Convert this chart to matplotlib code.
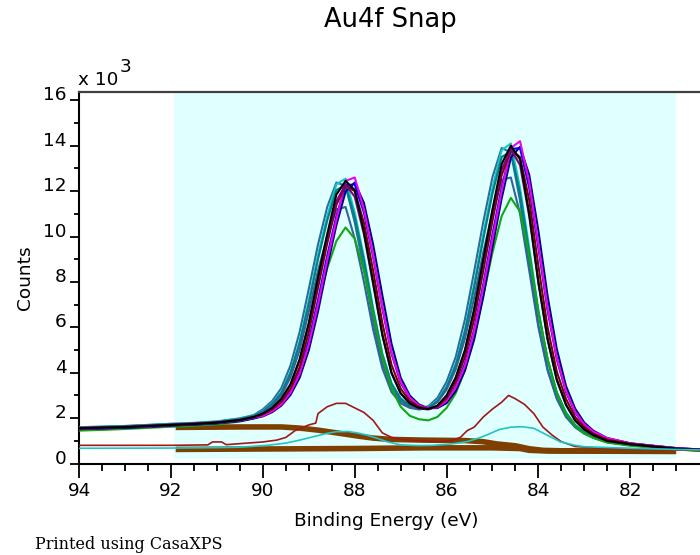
import matplotlib
matplotlib.use("Agg")
import matplotlib.pyplot as plt
from matplotlib.ticker import FixedLocator, FuncFormatter

# Binding-energy grid shared by the Au4f snapshot spectra (eV)
energy = [94.0, 93.5, 93.0, 92.5, 92.0, 91.5, 91.0, 90.5, 90.2,
          90.0, 89.8, 89.6, 89.4, 89.2, 89.0, 88.8, 88.6, 88.4, 88.2,
          88.0, 87.8, 87.6, 87.4, 87.2, 87.0, 86.8, 86.6, 86.4, 86.2,
          86.0, 85.8, 85.6, 85.4, 85.2, 85.0, 84.8, 84.6, 84.4, 84.2,
          84.0, 83.8, 83.6, 83.4, 83.2, 83.0, 82.8,
          82.5, 82.0, 81.5, 81.0, 80.5]

# Snapshot spectra (counts)
snap_steel_a = [1600, 1625, 1655, 1700, 1750, 1790, 1855, 1990, 2135,
                2390, 2750, 3320, 4320, 5800, 7700, 9650, 11300, 12380, 12230,
                10620, 8550, 6280, 4420, 3320, 2760, 2500, 2410, 2520, 2890,
                3600, 4700, 6350, 8450, 10650, 12620, 13900, 13700, 11580, 8750,
                6120, 4150, 2880, 2080, 1600, 1320, 1140,
                935, 810, 720, 630, 580]
snap_cyan = [1600, 1620, 1650, 1700, 1750, 1780, 1850, 1980, 2120,
             2330, 2650, 3150, 4050, 5400, 7200, 9200, 10900, 12300, 12550,
             11050, 9100, 6850, 4850, 3550, 2880, 2550, 2420, 2480, 2780,
             3400, 4400, 5900, 7900, 10100, 12150, 13800, 14100, 12150, 9500,
             6750, 4600, 3150, 2250, 1700, 1380, 1180,
             950, 820, 720, 630, 580]
snap_teal = [1580, 1610, 1640, 1690, 1730, 1770, 1830, 1960, 2100,
             2300, 2620, 3100, 3980, 5300, 7050, 9000, 10700, 12050, 12250,
             10850, 8950, 6750, 4800, 3500, 2850, 2520, 2400, 2450, 2740,
             3350, 4330, 5800, 7750, 9900, 11900, 13500, 13750, 11900, 9300,
             6650, 4550, 3120, 2230, 1690, 1370, 1170,
             940, 810, 710, 620, 570]
snap_steel_b = [1580, 1600, 1630, 1680, 1720, 1760, 1820, 1950, 2080,
                2280, 2550, 3000, 3800, 5000, 6700, 8500, 10000, 11200, 11300,
                9900, 8000, 5900, 4200, 3150, 2650, 2450, 2380, 2450, 2700,
                3250, 4150, 5500, 7300, 9300, 11100, 12500, 12600, 11000, 8500,
                6000, 4100, 2850, 2050, 1600, 1320, 1140,
                940, 820, 720, 630, 580]
snap_green = [1450, 1480, 1520, 1570, 1620, 1660, 1720, 1850, 1980,
              2100, 2300, 2650, 3150, 4000, 5400, 7000, 8600, 9800, 10400,
              9900, 8500, 6600, 4700, 3300, 2500, 2100, 1950, 1900, 2050,
              2450, 3100, 4100, 5600, 7400, 9300, 10900, 11700, 11100, 9200,
              6700, 4600, 3100, 2200, 1650, 1320, 1120,
              920, 780, 700, 620, 550]
snap_navy = [1510, 1545, 1575, 1610, 1670, 1710, 1770, 1870, 1990,
             2080, 2260, 2550, 3020, 3780, 5000, 6700, 8680, 10500, 11980,
             12380, 11480, 9650, 7420, 5280, 3780, 2990, 2600, 2440, 2440,
             2660, 3200, 4100, 5450, 7350, 9550, 11680, 13480, 13950, 12720,
             10250, 7380, 5050, 3420, 2420, 1800, 1440,
             1120, 890, 780, 680, 620]
snap_blue = [1520, 1550, 1580, 1620, 1680, 1720, 1780, 1880, 2000,
             2120, 2330, 2650, 3180, 4050, 5400, 7200, 9150, 10900, 12250,
             12300, 11050, 9100, 6850, 4850, 3550, 2880, 2550, 2420, 2480,
             2780, 3400, 4400, 5900, 7900, 10100, 12150, 13850, 13900, 12150,
             9500, 6750, 4600, 3150, 2250, 1700, 1380,
             1100, 880, 780, 680, 620]
snap_magenta = [1540, 1570, 1600, 1630, 1700, 1740, 1790, 1900, 2020,
                2100, 2300, 2600, 3120, 3950, 5250, 7000, 8950, 10750, 12450,
                12600, 11200, 9200, 6900, 4900, 3600, 2900, 2560, 2430, 2470,
                2760, 3350, 4300, 5800, 7750, 9900, 12000, 13900, 14200, 12400,
                9650, 6850, 4650, 3200, 2280, 1720, 1400,
                1120, 890, 780, 670, 610]
snap_maroon = [1560, 1590, 1610, 1660, 1710, 1760, 1810, 1910, 2040,
               2170, 2380, 2720, 3300, 4250, 5800, 7750, 9700, 11400, 12250,
               12000, 10600, 8500, 6200, 4350, 3300, 2750, 2500, 2400, 2500,
               2880, 3600, 4700, 6350, 8500, 10700, 12700, 13800, 13500, 11600,
               8700, 6000, 4050, 2850, 2050, 1600, 1300,
               1050, 870, 760, 660, 600]
snap_purple = [1520, 1560, 1620, 1640, 1690, 1750, 1790, 1900, 2030,
               2180, 2420, 2820, 3450, 4550, 6150, 8100, 10000, 11550, 12300,
               11750, 10100, 7900, 5650, 3980, 3080, 2630, 2430, 2380, 2530,
               2970, 3760, 4950, 6720, 8900, 11050, 12950, 13850, 13150, 10900,
               7950, 5450, 3680, 2590, 1890, 1490, 1240,
               990, 840, 740, 640, 590]
snap_black = [1550, 1580, 1600, 1650, 1700, 1740, 1800, 1920, 2050,
              2200, 2450, 2850, 3500, 4600, 6200, 8200, 10100, 11850, 12450,
              12050, 10200, 8000, 5700, 4000, 3100, 2650, 2450, 2400, 2550,
              3000, 3800, 5000, 6800, 9000, 11200, 13200, 14000, 13400, 11000,
              8000, 5500, 3700, 2600, 1900, 1500, 1250,
              1000, 850, 750, 650, 600]

snap_series = [
    (snap_steel_a, "#2F6A9E"),
    (snap_cyan, "#10C8C8"),
    (snap_teal, "#008080"),
    (snap_steel_b, "#30649A"),
    (snap_green, "#10A810"),
    (snap_navy, "#000080"),
    (snap_blue, "#0000F0"),
    (snap_magenta, "#F000F0"),
    (snap_maroon, "#800000"),
    (snap_purple, "#800080"),
    (snap_black, "#000000"),
]

# Fitted component envelopes
red_energy = [94.0, 92.0, 91.2, 91.1, 90.9, 90.8, 90.0, 89.7, 89.5, 89.3,
              89.0, 88.85, 88.8, 88.6, 88.4, 88.2, 88.0, 87.8, 87.6, 87.4,
              87.2, 87.0, 86.6, 86.2, 85.9, 85.7, 85.55, 85.4, 85.2, 85.0,
              84.8, 84.65, 84.5, 84.3, 84.1, 83.9, 83.7, 83.5, 83.2, 82.7,
              82.0, 81.0, 80.5]
red_counts = [800, 800, 820, 950, 950, 830, 950, 1030, 1150, 1450,
              1700, 1780, 2200, 2500, 2650, 2650, 2450, 2250, 1900, 1350,
              1150, 1070, 1000, 960, 1000, 1150, 1450, 1600, 2050, 2400,
              2700, 3000, 2850, 2600, 2200, 1600, 1250, 960, 750, 680,
              650, 600, 580]

aqua_energy = [94.0, 92.0, 91.0, 90.5, 89.9, 89.5, 89.2, 88.9, 88.6, 88.4,
               88.15, 87.95, 87.75, 87.5, 87.3, 87.0, 86.6, 86.3, 85.9, 85.56,
               85.3, 85.12, 84.85, 84.6, 84.35, 84.1, 83.82, 83.53, 83.2, 83.0,
               82.0, 81.0, 80.5]
aqua_counts = [670, 680, 700, 720, 800, 900, 1030, 1180, 1330, 1400,
               1410, 1350, 1260, 1100, 960, 820, 790, 800, 860, 960,
               1120, 1260, 1500, 1600, 1620, 1550, 1260, 960, 800, 740,
               670, 620, 600]

# Shirley-type backgrounds under the fit region
bg_upper_energy = [91.9, 90.5, 89.6, 89.2, 88.8, 88.5, 88.2, 87.9, 87.6, 87.2,
                   86.5, 85.6, 85.2, 84.9, 84.5, 84.2, 83.9, 83.5, 81.0]
bg_upper_counts = [1590, 1610, 1610, 1560, 1470, 1380, 1290, 1200, 1120, 1060,
                   1030, 1010, 960, 860, 780, 650, 580, 560, 550]
bg_lower_energy = [91.9, 88.0, 86.5, 85.0, 84.4, 84.2, 83.8, 81.0]
bg_lower_counts = [620, 660, 690, 690, 660, 580, 550, 530]

# Fit region limits (eV)
region_start = 91.93
region_end = 81.0

x_major = [94, 92, 90, 88, 86, 84, 82]
x_minor = [93.5, 93, 92.5, 91.5, 91, 90.5, 89.5, 89, 88.5, 87.5, 87, 86.5,
           85.5, 85, 84.5, 83.5, 83, 82.5, 81.5, 81]
y_major = [0, 2000, 4000, 6000, 8000, 10000, 12000, 14000, 16000]
y_minor = [1000, 3000, 5000, 7000, 9000, 11000, 13000, 15000]

W, H = 700, 555
fig = plt.figure(figsize=(W / 100, H / 100), dpi=100)
fig.patch.set_facecolor("white")

left_px, right_px, top_px, bottom_px = 79.3, 700.0, 91.7, 463.5
ax = fig.add_axes([left_px / W, (H - bottom_px) / H,
                   (right_px - left_px) / W, (bottom_px - top_px) / H])
ax.set_facecolor("white")
ax.set_xlim(94, 80.48)
ax.set_ylim(0, 16380)

ax.axvspan(region_start, region_end, ymin=0.012, ymax=1.0,
           facecolor="#E0FFFF", edgecolor="none", zorder=0)

ax.plot(bg_upper_energy, bg_upper_counts, color="#7F3F00", lw=4.0,
        solid_capstyle="butt", zorder=2)
ax.plot(bg_lower_energy, bg_lower_counts, color="#7F3F00", lw=4.0,
        solid_capstyle="butt", zorder=2)

for counts, col in snap_series:
    ax.plot(energy, counts, color=col, lw=1.5, zorder=3)

ax.plot(red_energy, red_counts, color="#A01818", lw=1.2, zorder=5)
ax.plot(aqua_energy, aqua_counts, color="#20C4C4", lw=1.2, zorder=5)

# Axes frame
for side in ("left", "bottom"):
    ax.spines[side].set_linewidth(1.5)
    ax.spines[side].set_color("black")
ax.spines["top"].set_linewidth(1.6)
ax.spines["top"].set_color("#404040")
ax.spines["right"].set_visible(False)

ax.xaxis.set_major_locator(FixedLocator(x_major))
ax.xaxis.set_minor_locator(FixedLocator(x_minor))
ax.yaxis.set_major_locator(FixedLocator(y_major))
ax.yaxis.set_minor_locator(FixedLocator(y_minor))
ax.yaxis.set_major_formatter(FuncFormatter(lambda v, p: f"{v / 1000:g}"))
ax.xaxis.set_major_formatter(FuncFormatter(lambda v, p: f"{v:g}"))

ax.tick_params(axis="x", which="major", direction="out", length=10, width=1.3,
               pad=3, labelsize=13.3, top=False)
ax.tick_params(axis="x", which="minor", direction="out", length=5, width=1.3,
               top=False)
ax.tick_params(axis="y", which="major", direction="out", length=6.5, width=1.3,
               pad=2.4, labelsize=13.3, right=False)
ax.tick_params(axis="y", which="minor", direction="out", length=3.6, width=1.3,
               right=False)
for tick in ax.yaxis.get_major_ticks():
    tick.label1.set_verticalalignment("baseline")

fig.text(390 / W, 1 - 27 / H, "Au4f Snap", ha="center", va="baseline",
         fontsize=18.5, color="black")
fig.text(386 / W, 1 - 526 / H, "Binding Energy (eV)", ha="center",
         va="baseline", fontsize=13.3, color="black")
fig.text(25 / W, 1 - 277.6 / H, "Counts", ha="center", va="center",
         rotation=90, fontsize=13.3, color="black")
fig.text(78 / W, 1 - 85 / H, "x 10", ha="left", va="baseline",
         fontsize=13.3, color="black")
fig.text(120 / W, 1 - 72 / H, "3", ha="left", va="baseline",
         fontsize=13.3, color="black")
fig.text(35 / W, 1 - 549 / H, "Printed using CasaXPS", ha="left",
         va="baseline", fontsize=11.5, family="DejaVu Serif", color="black")

fig.savefig("out.png", dpi=100, facecolor="white")
